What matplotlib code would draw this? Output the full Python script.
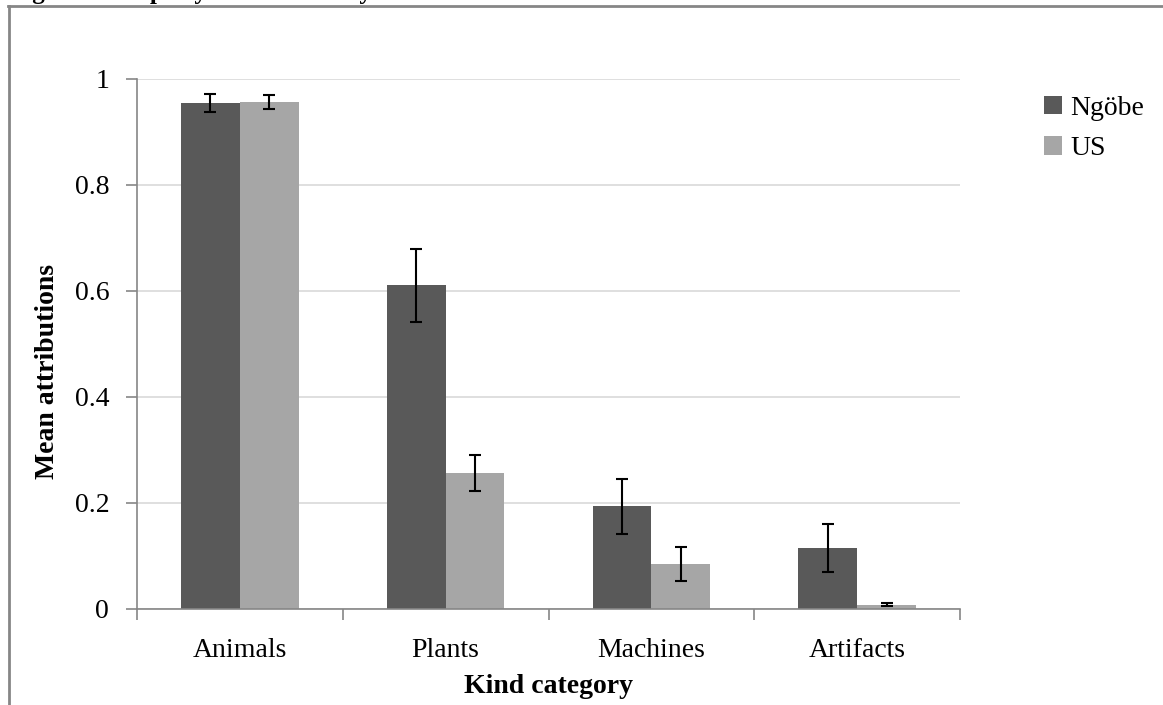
import numpy as np
import matplotlib
matplotlib.use("Agg")
import matplotlib.pyplot as plt
from matplotlib.lines import Line2D

plt.rcParams['font.family'] = ['Liberation Serif', 'DejaVu Serif']

categories = ['Animals', 'Plants', 'Machines', 'Artifacts']
series = ['Ngöbe', 'US']
ngobe = [0.955, 0.611, 0.194, 0.115]
us = [0.957, 0.257, 0.085, 0.008]
ngobe_err = [0.017, 0.069, 0.052, 0.046]
us_err = [0.013, 0.034, 0.032, 0.003]

fig = plt.figure(figsize=(11.63, 7.05), dpi=100)
ax = fig.add_axes([137 / 1163, 96 / 705, 823 / 1163, 530 / 705])

x = np.arange(len(categories))
w = 0.286
ax.bar(x - w / 2, ngobe, w, color='#595959', label=series[0], zorder=2)
ax.bar(x + w / 2, us, w, color='#A6A6A6', label=series[1], zorder=2)
ax.errorbar(x - w / 2, ngobe, yerr=ngobe_err, fmt='none', ecolor='black',
            elinewidth=1.5, capsize=4.5, capthick=1.5, zorder=3)
ax.errorbar(x + w / 2, us, yerr=us_err, fmt='none', ecolor='black',
            elinewidth=1.5, capsize=4.5, capthick=1.5, zorder=3)

ax.set_xlim(-0.5, len(categories) - 0.5)
ax.set_ylim(0, 1)
ax.set_yticks([0, 0.2, 0.4, 0.6, 0.8, 1])
ax.set_yticklabels(['0', '0.2', '0.4', '0.6', '0.8', '1'])
ax.set_xticks(x)
ax.set_xticklabels(categories)
ax.set_xticks(np.arange(len(categories) + 1) - 0.5, minor=True)
ax.tick_params(axis='x', which='major', length=0, pad=21, labelsize=20)
ax.tick_params(axis='x', which='minor', length=8, color='#868686', width=1.2)
ax.tick_params(axis='y', length=8, color='#868686', width=1.2, pad=12, labelsize=20)

ax.grid(axis='y', color='#D9D9D9', linewidth=1.2, zorder=0)
ax.set_axisbelow(True)
for s in ['top', 'right']:
    ax.spines[s].set_visible(False)
for s in ['left', 'bottom']:
    ax.spines[s].set_color('#868686')
    ax.spines[s].set_linewidth(1.2)

ax.set_ylabel('Mean attributions', fontsize=20, fontweight='bold')
ax.yaxis.set_label_coords(-0.094, 0.449)
ax.set_xlabel('Kind category', fontsize=20, fontweight='bold')
ax.xaxis.set_label_coords(0.5, -0.122)

fig.legend(loc='upper left', bbox_to_anchor=(1030 / 1163, 1 - 82 / 705),
           frameon=False, fontsize=20, handlelength=0.65, handleheight=0.65,
           handletextpad=0.3, labelspacing=0.55, borderpad=0)

# outer chart frame and cut-off caption
fig.add_artist(Line2D([8 / 1163, 1], [1 - 5.5 / 705, 1 - 5.5 / 705], color='#868686', lw=2))
fig.add_artist(Line2D([9 / 1163, 9 / 1163], [0, 1 - 5.5 / 705], color='#868686', lw=2))
fig.text(10 / 1163, 1 + 1 / 705, 'Figure 2. Property attributions by kind', fontsize=18,
         fontweight='bold', va='baseline', ha='left')

fig.savefig('out.png', dpi=100)
